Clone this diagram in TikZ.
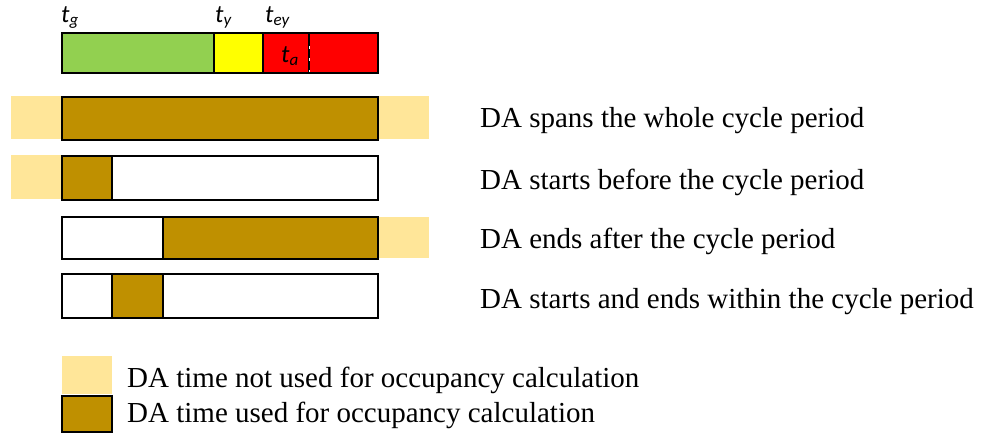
\documentclass[tikz,border=0pt]{standalone}
\usepackage{fontspec}
\setmainfont{Liberation Serif}
\newfontfamily\lblfont{Carlito}
\definecolor{dagold}{HTML}{BF9000}
\definecolor{dalight}{HTML}{FFE699}
\definecolor{sgreen}{HTML}{92D050}
\definecolor{syellow}{HTML}{FFFF00}
\definecolor{sred}{HTML}{FF0000}
\newcommand{\tlab}[1]{{\lblfont\itshape\fontsize{25}{25}\selectfont t\raisebox{-3pt}{\fontsize{17}{17}\selectfont #1}}}
\begin{document}
\begin{tikzpicture}[x=1pt,y=-1pt,
  barline/.style={draw=black,line width=2pt},
  used/.style={fill=dagold},
  unused/.style={fill=dalight},
  caption/.style={anchor=base west,inner sep=0pt,font=\fontsize{29}{29}\selectfont},
  tl/.style={anchor=base west,inner sep=0pt}]
\useasboundingbox (0,0) rectangle (984,433);
% signal bar
\fill[sgreen] (62,33) rectangle (214,73);
\fill[syellow] (214,33) rectangle (263,73);
\fill[sred] (263,33) rectangle (378,73);
\draw[line width=2pt] (214,33) -- (214,73) (263,33) -- (263,73) (309,33) -- (309,73);
\draw[white,line width=1pt,dash pattern=on 3pt off 9pt] (309,46) -- (309,73);
\draw[barline] (62,33) rectangle (378,73);
\node[tl] (tg) at (61,23) {\tlab{g}};
\node[tl] (ty) at (215,23) {\tlab{y}};
\node[tl] (tey) at (265,23) {\tlab{ey}};
\node[tl] (ta) at (281,63) {\tlab{a}};
% row 1
\fill[unused] (11,96) rectangle (429,139);
\draw[barline,used] (62,97) rectangle (378,140);
% row 2
\fill[unused] (11,155) rectangle (62,199);
\draw[barline,fill=white] (62,156) rectangle (378,200);
\draw[barline,used] (62,156) rectangle (112,200);
% row 3
\fill[unused] (378,217) rectangle (429,258);
\draw[barline,fill=white] (62,217) rectangle (378,259);
\draw[barline,used] (163,217) rectangle (378,259);
% row 4
\draw[barline,fill=white] (62,274) rectangle (378,318);
\draw[barline,used] (112,274) rectangle (163,318);
% captions
\node[caption] (c1) at (480,128) {DA spans the whole cycle period};
\node[caption] (c2) at (480,189) {DA starts before the cycle period};
\node[caption] (c3) at (480,248) {DA ends after the cycle period};
\node[caption] (c4) at (480,308) {DA starts and ends within the cycle period};
% legend
\fill[unused] (62,356) rectangle (112,394);
\draw[barline,used] (62,396) rectangle (112,432);
\node[caption] (l1) at (127,387) {DA time not used for occupancy calculation};
\node[caption] (l2) at (127,422) {DA time used for occupancy calculation};
\end{tikzpicture}
\end{document}
